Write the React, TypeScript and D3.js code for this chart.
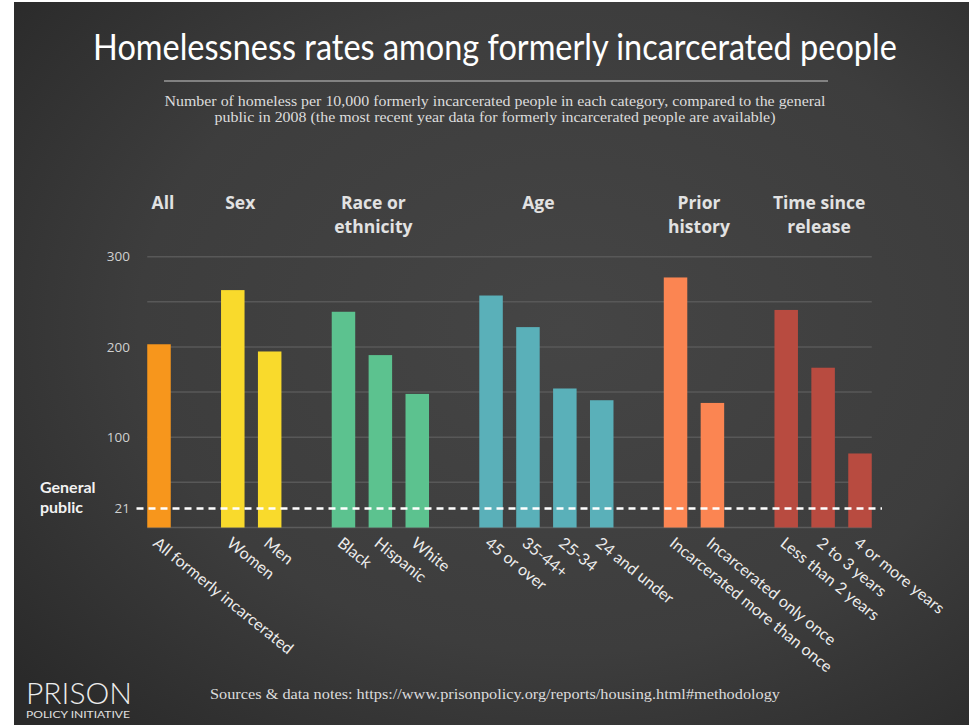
import React, { useLayoutEffect, useRef, useState } from "react";
import * as d3 from "d3";

// ---------- data ----------
const categories = [
  "All formerly incarcerated",
  "Women",
  "Men",
  "Black",
  "Hispanic",
  "White",
  "45 or over",
  "35-44+",
  "25-34",
  "24 and under",
  "Incarcerated more than once",
  "Incarcerated only once",
  "Less than 2 years",
  "2 to 3 years",
  "4 or more years",
];
const values = [203, 263, 195, 239, 191, 148, 257, 222, 154, 141, 277, 138, 241, 177, 82];
const categoryGroup = [0, 1, 1, 2, 2, 2, 3, 3, 3, 3, 4, 4, 5, 5, 5];
const groupTitles = [
  ["All"],
  ["Sex"],
  ["Race or", "ethnicity"],
  ["Age"],
  ["Prior", "history"],
  ["Time since", "release"],
];
const groupColors = ["#F7961C", "#F9DA2C", "#5CC28F", "#5AB0B9", "#FB8552", "#B84B40"];
const gridTicks = [50, 100, 150, 200, 250, 300];
const labelTicks = [100, 200, 300];
const generalPublic = 21;

const title = "Homelessness rates among formerly incarcerated people";
const subtitleLines = [
  "Number of homeless per 10,000 formerly incarcerated people in each category, compared to the general",
  "public in 2008 (the most recent year data for formerly incarcerated people are available)",
];
const sourceText = "Sources & data notes: https://www.prisonpolicy.org/reports/housing.html#methodology";

// ---------- layout ----------
const W = 969;
const H = 725;
const headerShift = [4, -11, -7, -8, 5, -4];
const TITLE_WIDTH = 804;

export default function App() {
  const titleRef = useRef<SVGTextElement>(null);
  const [titleScale, setTitleScale] = useState(1);
  useLayoutEffect(() => {
    if (titleRef.current) {
      const w = titleRef.current.getComputedTextLength();
      if (w > 0) setTitleScale(TITLE_WIDTH / w);
    }
  }, []);

  // slots with spacers between groups
  const slots: string[] = [];
  categories.forEach((c, i) => {
    if (i > 0 && categoryGroup[i] !== categoryGroup[i - 1]) slots.push(`gap-${i}`);
    slots.push(c);
  });
  const x = d3.scalePoint<string>().domain(slots).range([159, 860]);
  const barW = 23.5;
  const y = d3.scaleLinear().domain([0, 300]).range([527.5, 256.7]);

  const left = (x(categories[0]) as number) - barW / 2;
  const right = (x(categories[categories.length - 1]) as number) + barW / 2;

  const groupCenters = groupTitles.map((_, g) => {
    const xs = categories.filter((_, i) => categoryGroup[i] === g).map((c) => x(c) as number);
    return (d3.mean(xs) as number) + headerShift[g];
  });

  const labelFont = "Lato, 'Open Sans', sans-serif";

  return (
    <div style={{ position: "absolute", left: 0, top: 0, width: W, height: H }}>
      <svg width={W} height={H} style={{ display: "block" }}>
        <defs>
          <radialGradient id="bg" cx="58%" cy="45%" r="75%">
            <stop offset="0%" stopColor="#454545" />
            <stop offset="60%" stopColor="#3d3d3d" />
            <stop offset="100%" stopColor="#2a2a2a" />
          </radialGradient>
        </defs>
        <rect x={0} y={0} width={W} height={H} fill="#ffffff" />
        <rect x={14} y={2} width={W - 14} height={H - 2} fill="url(#bg)" />

        {/* title */}
        <g transform={`translate(495,60) scale(${titleScale},1)`}>
          <text
            ref={titleRef}
            x={0}
            y={0}
            textAnchor="middle"
            fill="#ffffff"
            fontFamily="Lato, sans-serif"
            fontSize={36}
          >
            {title}
          </text>
        </g>
        <line x1={164} x2={828} y1={81} y2={81} stroke="#9a9a9a" strokeWidth={1.5} />
        {subtitleLines.map((s, i) => (
          <text
            key={i}
            x={495}
            y={106 + i * 16}
            textAnchor="middle"
            fill="#dcdcdc"
            fontFamily="'Liberation Serif', serif"
            fontSize={15.5}
            textLength={i === 0 ? 661 : 561}
            lengthAdjust="spacingAndGlyphs"
          >
            {s}
          </text>
        ))}

        {/* group headers */}
        {groupTitles.map((lines, g) => (
          <text
            key={g}
            x={groupCenters[g]}
            y={209}
            textAnchor="middle"
            fill="#e2e2e2"
            fontFamily="'Open Sans', sans-serif"
            fontWeight={700}
            fontSize={17.5}
          >
            {lines.map((l, j) => (
              <tspan key={j} x={groupCenters[g]} dy={j === 0 ? 0 : 24}>
                {l}
              </tspan>
            ))}
          </text>
        ))}

        {/* gridlines */}
        {gridTicks.map((t) => (
          <line key={t} x1={left} x2={right} y1={y(t)} y2={y(t)} stroke="#585858" strokeWidth={1.5} />
        ))}
        <line x1={left} x2={right} y1={y(0)} y2={y(0)} stroke="#5c5c5c" strokeWidth={1.5} />

        {/* y labels */}
        {labelTicks.map((t) => (
          <text
            key={t}
            x={130}
            y={y(t)}
            dy="0.35em"
            textAnchor="end"
            fill="#d0d0d0"
            fontFamily="'Open Sans', sans-serif"
            fontSize={13.5}
          >
            {t}
          </text>
        ))}
        <text x={130} y={y(generalPublic)} dy="0.35em" textAnchor="end" fill="#d0d0d0" fontFamily="'Open Sans', sans-serif" fontSize={13.5}>
          {generalPublic}
        </text>
        <text x={40} y={493} fill="#f2f2f2" fontFamily="Lato, sans-serif" fontWeight={700} fontSize={16}>
          General
        </text>
        <text x={40} y={513} fill="#f2f2f2" fontFamily="Lato, sans-serif" fontWeight={700} fontSize={16}>
          public
        </text>

        {/* bars */}
        {categories.map((c, i) => (
          <rect
            key={c}
            x={(x(c) as number) - barW / 2}
            y={y(values[i])}
            width={barW}
            height={y(0) - y(values[i])}
            fill={groupColors[categoryGroup[i]]}
          />
        ))}

        {/* general public line */}
        <line
          x1={136.5}
          x2={882}
          y1={y(generalPublic)}
          y2={y(generalPublic)}
          stroke="#ffffff"
          strokeWidth={2.5}
          strokeDasharray="7 5"
        />

        {/* x labels */}
        {categories.map((c) => (
          <text
            key={c}
            transform={`translate(${(x(c) as number) - 7},${545}) rotate(39)`}
            fill="#ececec"
            fontFamily={labelFont}
            fontSize={16}
            letterSpacing={0.1}
          >
            {c}
          </text>
        ))}

        {/* footer */}
        <text x={26} y={704} fill="#ececec" fontFamily="Lato, sans-serif" fontWeight={300} fontSize={29} textLength={106} lengthAdjust="spacingAndGlyphs">
          PRISON
        </text>
        <text x={26} y={717.5} fill="#e0e0e0" fontFamily="Lato, sans-serif" fontWeight={400} fontSize={9.5} textLength={104} lengthAdjust="spacingAndGlyphs">
          POLICY INITIATIVE
        </text>
        <text x={210} y={699} fill="#dcdcdc" fontFamily="'Liberation Serif', serif" fontSize={15.5} textLength={570} lengthAdjust="spacingAndGlyphs">
          {sourceText}
        </text>
      </svg>
    </div>
  );
}
